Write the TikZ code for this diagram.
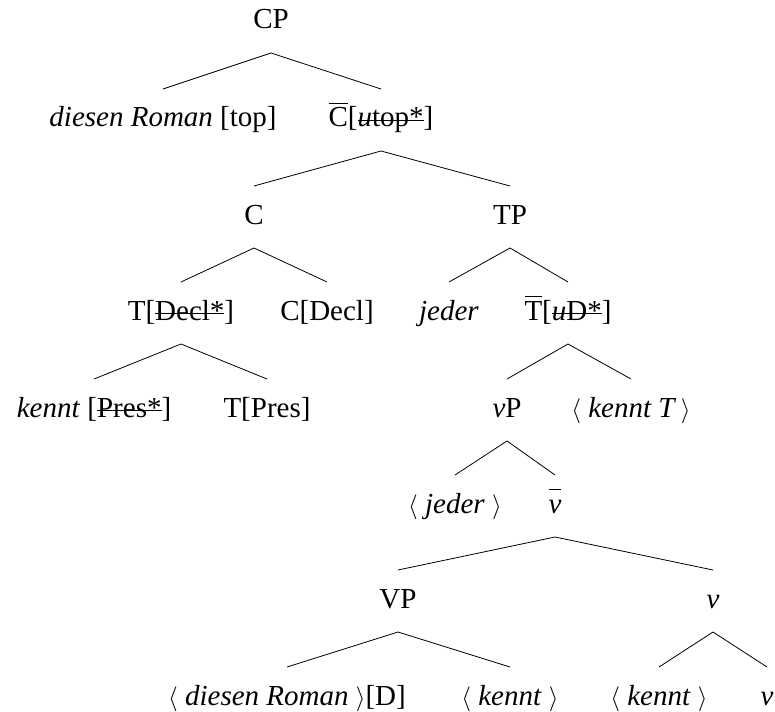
\documentclass[tikz,border=0pt]{standalone}
\usepackage{fontspec}
\setmainfont{Liberation Serif}
\newcommand\mystrike[1]{{\setbox0\hbox{#1}\rlap{\rule[0.22em]{\wd0}{0.035em}}\box0}}
\newcommand\myobar[1]{{\setbox0\hbox{#1}\rlap{\rule[0.8em]{\wd0}{0.035em}}\box0}}
\tikzset{
  lbl/.style={anchor=base, text height=18pt, text depth=4pt, inner xsep=0pt,
    inner ysep=20pt, outer sep=0pt, font=\fontsize{29}{34}\selectfont},
  edge/.style={line width=0.8pt}
}
\begin{document}
\begin{tikzpicture}[x=1pt,y=-1pt]
\useasboundingbox (0,0) rectangle (775,711);
\node[lbl] (cp) at (271,29) {CP};
\node[lbl] (dr) at (163,127) {\textit{diesen Roman} [top]};
\node[lbl] (cbar) at (381,127) {\myobar{C}[\mystrike{\textit{u}top*}]};
\node[lbl] (c) at (254,224) {C};
\node[lbl] (tp) at (510,224) {TP};
\node[lbl] (tdecl) at (181,320) {T[\mystrike{Decl*}]};
\node[lbl] (cdecl) at (327,320) {C[Decl]};
\node[lbl] (jeder) at (449,320) {\textit{jeder}};
\node[lbl] (tbar) at (568,320) {\myobar{T}[\mystrike{\textit{u}D*}]};
\node[lbl] (kennt) at (94,417) {\textit{kennt} [\mystrike{Pres*}]};
\node[lbl] (tpres) at (267,417) {T[Pres]};
\node[lbl] (vp) at (507,417) {\textit{v}P};
\node[lbl] (kt) at (631,417) {$\langle$\ \textit{kennt T}\,$\rangle$};
\node[lbl] (jtr) at (455,513) {$\langle$\ \textit{jeder}\ $\rangle$};
\node[lbl] (vbar) at (555,513) {\myobar{\textit{v}}};
\node[lbl] (VP) at (398,608) {VP};
\node[lbl] (v) at (713,608) {\textit{v}};
\node[lbl] (drt) at (287,705) {$\langle$\ \textit{diesen Roman}\ $\rangle$[D]};
\node[lbl] (kt1) at (510,705) {$\langle$\ \textit{kennt}\ $\rangle$};
\node[lbl] (kt2) at (659,705) {$\langle$\ \textit{kennt}\ $\rangle$};
\node[lbl] (v2) at (767,705) {\textit{v}};
\draw[edge] (dr.north) -- (cp.south) -- (cbar.north);
\draw[edge] (c.north) -- (cbar.south) -- (tp.north);
\draw[edge] (tdecl.north) -- (c.south) -- (cdecl.north);
\draw[edge] (jeder.north) -- (tp.south) -- (tbar.north);
\draw[edge] (kennt.north) -- (tdecl.south) -- (tpres.north);
\draw[edge] (vp.north) -- (tbar.south) -- (kt.north);
\draw[edge] (jtr.north) -- (vp.south) -- (vbar.north);
\draw[edge] (VP.north) -- (vbar.south) -- (v.north);
\draw[edge] (drt.north) -- (VP.south) -- (kt1.north);
\draw[edge] (kt2.north) -- (v.south) -- (v2.north);
\end{tikzpicture}
\end{document}
